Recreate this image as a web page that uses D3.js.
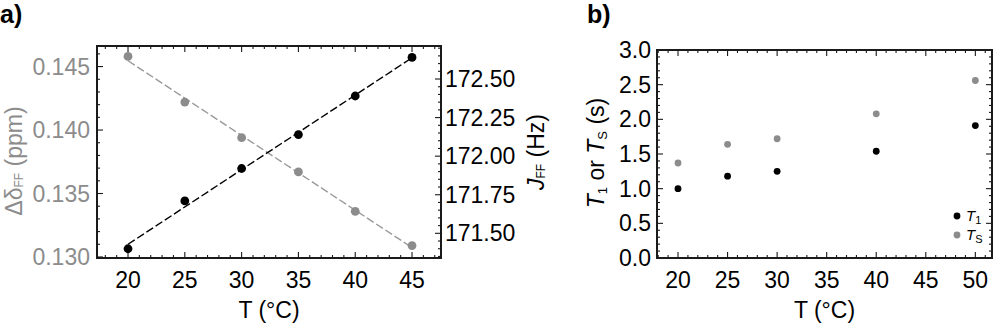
<!DOCTYPE html>
<html>
<head>
<meta charset="utf-8">
<script src="https://cdn.jsdelivr.net/npm/d3@7"></script>
<style>
  body { margin: 0; background: #fff; }
  svg { display: block; font-family: "Liberation Sans", Arial, sans-serif; }
</style>
</head>
<body>
<svg id="chart" width="996" height="323"></svg>
<script>
// panel a data
var tempA = [20, 25, 30, 35, 40, 45];
var deltaFF = [0.1458, 0.1422, 0.1394, 0.1367, 0.1336, 0.1309];
var jFF = [171.40, 171.71, 171.92, 172.14, 172.39, 172.64];
var tickXA = [20, 25, 30, 35, 40, 45];
var tickLeftA = [0.130, 0.135, 0.140, 0.145];
var tickRightA = [171.50, 171.75, 172.00, 172.25, 172.50];

// panel b data
var tempB = [20, 25, 30, 40, 50];
var t1 = [1.00, 1.18, 1.25, 1.54, 1.91];
var ts = [1.37, 1.64, 1.72, 2.08, 2.56];
var tickXB = [20, 25, 30, 35, 40, 45, 50];
var tickYB = [0.0, 0.5, 1.0, 1.5, 2.0, 2.5, 3.0];

var GREY = "#8c8c8c";
var FRAME = "#1a1a1a";
var svg = d3.select("#chart");

// least squares fit for the dashed lines
function fit(xs, ys) {
  var mx = d3.mean(xs), my = d3.mean(ys);
  var sxy = d3.sum(xs, (x, i) => (x - mx) * (ys[i] - my));
  var sxx = d3.sum(xs, x => (x - mx) * (x - mx));
  var b = sxy / sxx;
  return x => my + b * (x - mx);
}

// inside ticks on one side of a frame
function frameTicks(g, scale, side, step, majors, x0, x1, y0, y1) {
  var d = scale.domain();
  var lo = Math.min(d[0], d[1]), hi = Math.max(d[0], d[1]);
  var minors = d3.range(Math.ceil(lo / step - 1e-6) * step, hi, step);
  var isMajor = v => majors.some(m => Math.abs(m - v) < step / 10);
  minors.forEach(function(v) {
    var len = isMajor(v) ? 6 : 3;
    var p = scale(v);
    var l = g.append("line").attr("stroke", FRAME).attr("stroke-width", 1.1);
    if (side === "bottom") l.attr("x1", p).attr("x2", p).attr("y1", y1).attr("y2", y1 - len);
    if (side === "top") l.attr("x1", p).attr("x2", p).attr("y1", y0).attr("y2", y0 + len);
    if (side === "left") l.attr("y1", p).attr("y2", p).attr("x1", x0).attr("x2", x0 + len);
    if (side === "right") l.attr("y1", p).attr("y2", p).attr("x1", x1).attr("x2", x1 - len);
  });
}

// ---------- panel a ----------
(function() {
  var L = 97, R = 441, T = 46, B = 258;
  var x = d3.scaleLinear().domain([17.27, 47.55]).range([L, R]);
  var yL = d3.scaleLinear().domain([0.12992, 0.14662]).range([B, T]);
  var yR = d3.scaleLinear().domain([171.34, 172.714]).range([B, T]);
  var g = svg.append("g");

  frameTicks(g, x, "bottom", 1, tickXA, L, R, T, B);
  frameTicks(g, x, "top", 1, tickXA, L, R, T, B);
  frameTicks(g, yL, "left", 0.001, tickLeftA, L, R, T, B);
  frameTicks(g, yR, "right", 0.05, tickRightA, L, R, T, B);

  g.append("rect").attr("x", L).attr("y", T).attr("width", R - L).attr("height", B - T)
    .attr("fill", "none").attr("stroke", FRAME).attr("stroke-width", 2);

  var fd = fit(tempA, deltaFF), fj = fit(tempA, jFF);
  g.append("line")
    .attr("x1", x(20)).attr("y1", yL(fd(20))).attr("x2", x(45)).attr("y2", yL(fd(45)))
    .attr("stroke", "#9a9a9a").attr("stroke-width", 1.4).attr("stroke-dasharray", "8,3");
  g.append("line")
    .attr("x1", x(20)).attr("y1", yR(fj(20))).attr("x2", x(45)).attr("y2", yR(fj(45)))
    .attr("stroke", "#000").attr("stroke-width", 1.4).attr("stroke-dasharray", "8,3");

  g.selectAll("circle.d").data(tempA).join("circle")
    .attr("cx", d => x(d)).attr("cy", (d, i) => yL(deltaFF[i])).attr("r", 4.4).attr("fill", GREY);
  g.selectAll("circle.j").data(tempA).join("circle")
    .attr("cx", d => x(d)).attr("cy", (d, i) => yR(jFF[i])).attr("r", 4.4).attr("fill", "#000");

  g.selectAll("text.xt").data(tickXA).join("text")
    .attr("x", d => x(d)).attr("y", 288).attr("text-anchor", "middle")
    .attr("font-size", 23).text(d => d);
  g.selectAll("text.yl").data(tickLeftA).join("text")
    .attr("x", 90).attr("y", d => yL(d)).attr("dy", "0.35em").attr("text-anchor", "end")
    .attr("font-size", 23).attr("fill", GREY).text(d => d3.format(".3f")(d));
  g.selectAll("text.yr").data(tickRightA).join("text")
    .attr("x", 445).attr("y", d => yR(d)).attr("dy", "0.35em").attr("text-anchor", "start")
    .attr("font-size", 23).text(d => d3.format(".2f")(d));

  g.append("text").attr("x", (L + R) / 2).attr("y", 318).attr("text-anchor", "middle")
    .attr("font-size", 23).text("T (°C)");

  var ll = g.append("text").attr("transform", "translate(22,161) rotate(-90)")
    .attr("text-anchor", "middle").attr("font-size", 23).attr("fill", GREY);
  ll.append("tspan").text("Δδ");
  ll.append("tspan").attr("font-size", 12).attr("dy", 1).text("FF");
  ll.append("tspan").attr("dy", -1).text(" (ppm)");

  var rl = g.append("text").attr("transform", "translate(544,152) rotate(-90)")
    .attr("text-anchor", "middle").attr("font-size", 23);
  rl.append("tspan").attr("font-style", "italic").text("J");
  rl.append("tspan").attr("font-size", 12).attr("dy", 1).text("FF");
  rl.append("tspan").attr("dy", -1).text(" (Hz)");

  svg.append("text").attr("x", 0).attr("y", 23).attr("font-size", 25)
    .attr("font-weight", "bold").text("a)");
})();

// ---------- panel b ----------
(function() {
  var L = 657, R = 992, T = 50, B = 258;
  var x = d3.scaleLinear().domain([17.88, 51.68]).range([L, R]);
  var y = d3.scaleLinear().domain([0, 3]).range([B, T]);
  var g = svg.append("g");

  frameTicks(g, x, "bottom", 1, tickXB, L, R, T, B);
  frameTicks(g, x, "top", 1, tickXB, L, R, T, B);
  frameTicks(g, y, "left", 0.1, tickYB, L, R, T, B);
  frameTicks(g, y, "right", 0.1, tickYB, L, R, T, B);

  g.append("rect").attr("x", L).attr("y", T).attr("width", R - L).attr("height", B - T)
    .attr("fill", "none").attr("stroke", FRAME).attr("stroke-width", 2);

  g.selectAll("circle.s").data(tempB).join("circle")
    .attr("cx", d => x(d)).attr("cy", (d, i) => y(ts[i])).attr("r", 3.4).attr("fill", GREY);
  g.selectAll("circle.t").data(tempB).join("circle")
    .attr("cx", d => x(d)).attr("cy", (d, i) => y(t1[i])).attr("r", 3.4).attr("fill", "#000");

  g.selectAll("text.xt").data(tickXB).join("text")
    .attr("x", d => x(d)).attr("y", 288).attr("text-anchor", "middle")
    .attr("font-size", 23).text(d => d);
  g.selectAll("text.yt").data(tickYB).join("text")
    .attr("x", 651).attr("y", d => y(d)).attr("dy", "0.35em").attr("text-anchor", "end")
    .attr("font-size", 23).text(d => d3.format(".1f")(d));

  g.append("text").attr("x", (L + R) / 2).attr("y", 318).attr("text-anchor", "middle")
    .attr("font-size", 23).text("T (°C)");

  var yl = g.append("text").attr("transform", "translate(604,153) rotate(-90)")
    .attr("text-anchor", "middle").attr("font-size", 23);
  yl.append("tspan").attr("font-style", "italic").text("T");
  yl.append("tspan").attr("font-size", 13).attr("dy", 3).text("1");
  yl.append("tspan").attr("dy", -3).text(" or ");
  yl.append("tspan").attr("font-style", "italic").text("T");
  yl.append("tspan").attr("font-size", 13).attr("dy", 3).text("S");
  yl.append("tspan").attr("dy", -3).text(" (s)");

  // legend
  var legend = [{ name: "1", color: "#000", y: 216 }, { name: "S", color: GREY, y: 235 }];
  legend.forEach(function(e) {
    g.append("circle").attr("cx", 957).attr("cy", e.y).attr("r", 3.4).attr("fill", e.color);
    var t = g.append("text").attr("x", 966).attr("y", e.y + 5).attr("font-size", 15);
    t.append("tspan").attr("font-style", "italic").text("T");
    t.append("tspan").attr("font-size", 11).attr("dy", 3).text(e.name);
  });

  svg.append("text").attr("x", 587).attr("y", 23).attr("font-size", 25)
    .attr("font-weight", "bold").text("b)");
})();
</script>
</body>
</html>
